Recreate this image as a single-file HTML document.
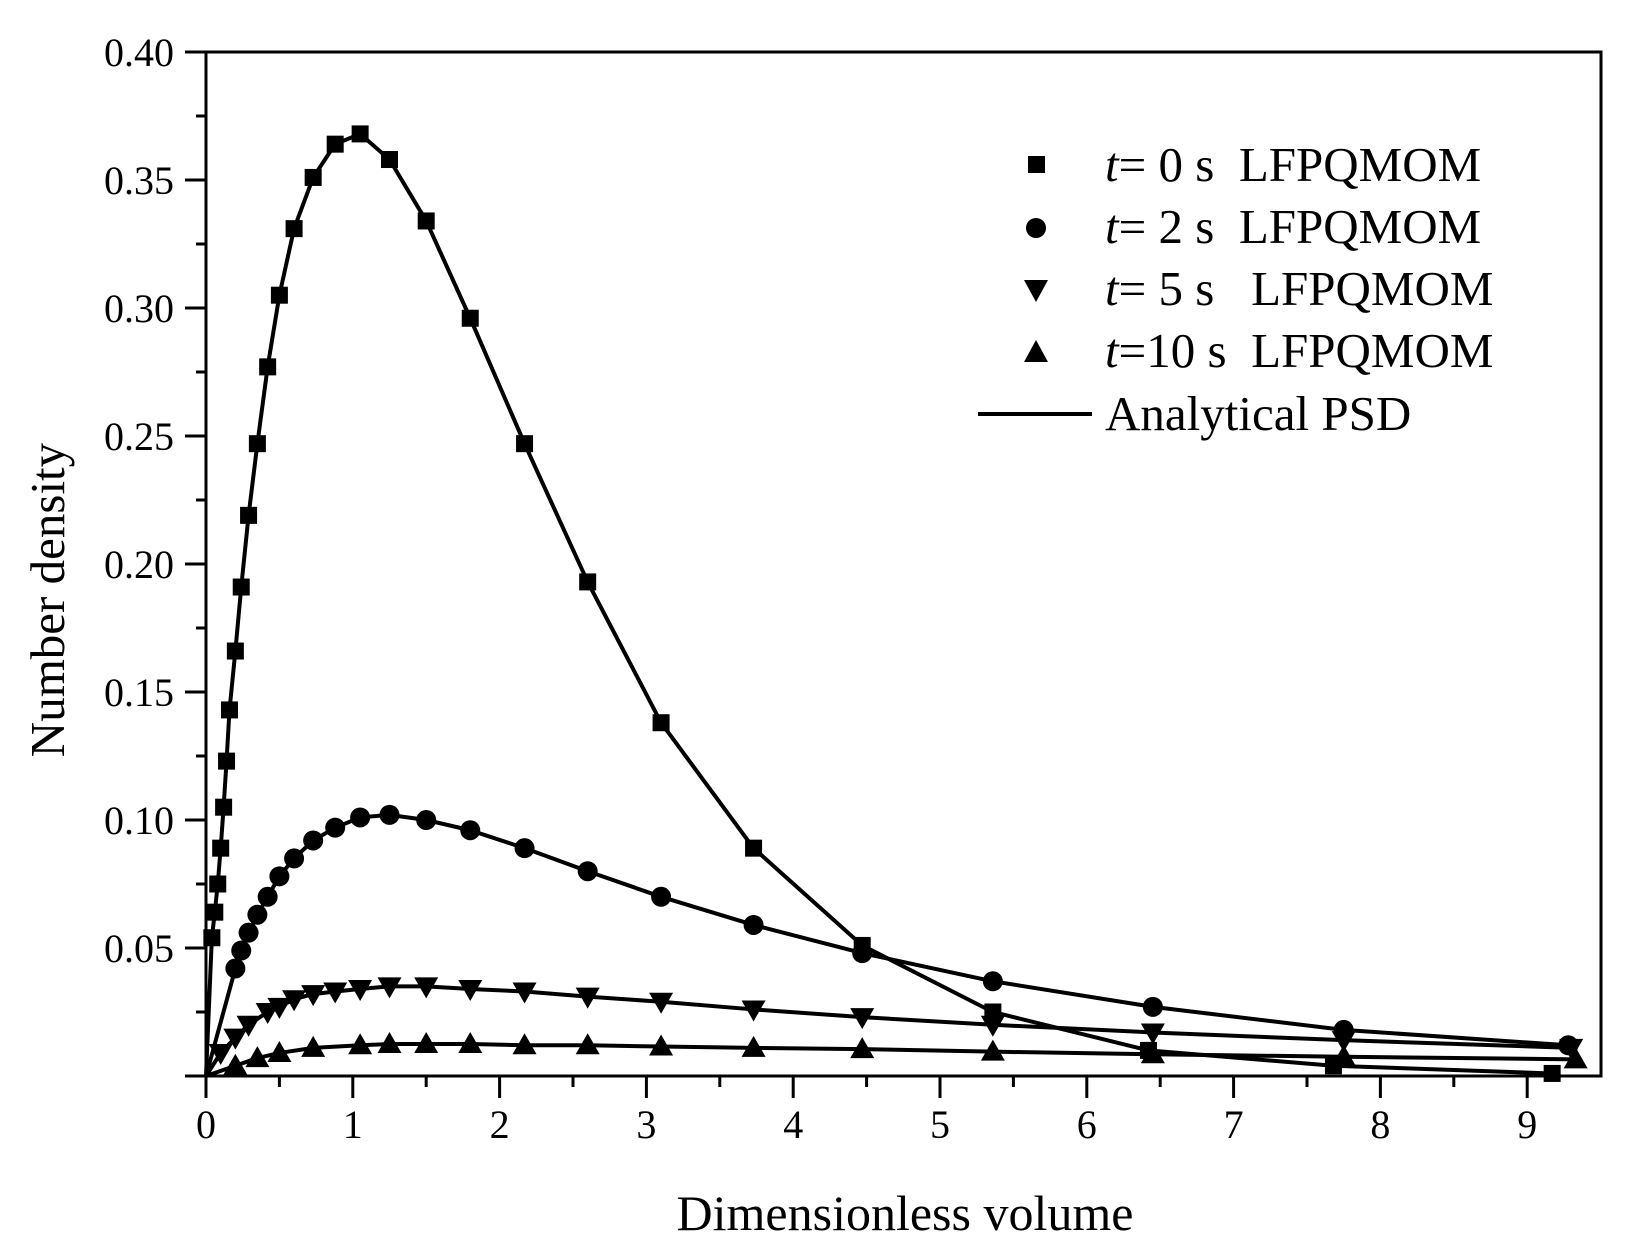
<!DOCTYPE html>
<html><head><meta charset="utf-8"><style>
body{margin:0;background:#fff}
svg{display:block}
text{font-family:"Liberation Serif",serif;fill:#000}
</style></head><body>
<svg id="s" width="1637" height="1251" xmlns="http://www.w3.org/2000/svg">
<rect x="206" y="52" width="1395" height="1024" fill="none" stroke="#000" stroke-width="3"/>
<g id="ax"></g><g id="dat"></g>
<text x="905" y="1230" font-size="50" text-anchor="middle">Dimensionless volume</text>
<text transform="translate(64,600) rotate(-90)" font-size="49" text-anchor="middle">Number density</text>
<g font-size="49">
<rect x="1028" y="156" width="17" height="17" fill="#000"/>
<text x="1105" y="181" xml:space="preserve"><tspan font-style="italic">t</tspan>= 0 s  LFPQMOM</text>
<circle cx="1036" cy="228" r="10" fill="#000"/>
<text x="1105" y="243" xml:space="preserve"><tspan font-style="italic">t</tspan>= 2 s  LFPQMOM</text>
<polygon points="1024,280 1048,280 1036,302" fill="#000"/>
<text x="1105" y="305" xml:space="preserve"><tspan font-style="italic">t</tspan>= 5 s   LFPQMOM</text>
<polygon points="1024,362 1048,362 1036,340" fill="#000"/>
<text x="1105" y="367" xml:space="preserve"><tspan font-style="italic">t</tspan>=10 s  LFPQMOM</text>
<line x1="978" y1="414" x2="1092" y2="414" stroke="#000" stroke-width="4"/>
<text x="1105" y="430">Analytical PSD</text>
</g>
</svg>
<script>
const X=v=>206+v*146.8, Y=v=>1076-v*2560, NS="http://www.w3.org/2000/svg";
const ax=document.getElementById('ax'),dat=document.getElementById('dat');
function el(p,t,a,txt){const e=document.createElementNS(NS,t);for(const k in a)e.setAttribute(k,a[k]);if(txt)e.textContent=txt;p.appendChild(e);return e;}
for(let i=0;i<=8;i++){const y=Y(i*0.05);el(ax,'line',{x1:185,x2:206,y1:y,y2:y,stroke:'#000','stroke-width':3});
 if(i<8){const ym=Y(i*0.05+0.025);el(ax,'line',{x1:196,x2:206,y1:ym,y2:ym,stroke:'#000','stroke-width':3});}
 if(i>0)el(ax,'text',{x:174,y:y+14,'font-size':40,'text-anchor':'end'},(i*0.05).toFixed(2));}
for(let i=0;i<=9;i++){const x=X(i);el(ax,'line',{x1:x,x2:x,y1:1076,y2:1098,stroke:'#000','stroke-width':3});
 const xm=X(i+0.5);if(xm<1600)el(ax,'line',{x1:xm,x2:xm,y1:1076,y2:1087,stroke:'#000','stroke-width':3});
 el(ax,'text',{x:x,y:1138,'font-size':40,'text-anchor':'middle'},String(i));}
const s0=[[0.04,0.054],[0.06,0.064],[0.08,0.075],[0.1,0.089],[0.12,0.105],[0.14,0.123],[0.16,0.143],[0.2,0.166],[0.24,0.191],[0.29,0.219],[0.35,0.247],[0.42,0.277],[0.5,0.305],[0.6,0.331],[0.73,0.351],[0.88,0.364],[1.05,0.368],[1.25,0.358],[1.5,0.334],[1.8,0.296],[2.17,0.247],[2.6,0.193],[3.1,0.138],[3.73,0.089],[4.47,0.051],[5.36,0.025],[6.42,0.010],[7.68,0.004],[9.17,0.001]];
const s2=[[0,0],[0.2,0.042],[0.24,0.049],[0.29,0.056],[0.35,0.063],[0.42,0.07],[0.5,0.078],[0.6,0.085],[0.73,0.092],[0.88,0.097],[1.05,0.101],[1.25,0.102],[1.5,0.1],[1.8,0.096],[2.17,0.089],[2.6,0.080],[3.1,0.070],[3.73,0.059],[4.47,0.048],[5.36,0.037],[6.45,0.027],[7.75,0.018],[9.28,0.012]];
const s5=[[0,0],[0.1,0.009],[0.2,0.015],[0.29,0.02],[0.42,0.025],[0.5,0.027],[0.6,0.03],[0.73,0.032],[0.88,0.033],[1.05,0.034],[1.25,0.035],[1.5,0.035],[1.8,0.034],[2.17,0.033],[2.6,0.031],[3.1,0.029],[3.73,0.026],[4.47,0.023],[5.36,0.02],[6.45,0.017],[7.75,0.014],[9.3,0.011]];
const s10=[[0,0],[0.2,0.004],[0.35,0.007],[0.5,0.009],[0.73,0.011],[1.05,0.012],[1.25,0.0125],[1.5,0.0125],[1.8,0.0125],[2.17,0.012],[2.6,0.012],[3.1,0.0115],[3.73,0.011],[4.47,0.0105],[5.36,0.0095],[6.45,0.0085],[7.75,0.0075],[9.33,0.0065]];
function line(s){el(dat,'polyline',{points:s.map(p=>X(p[0])+','+Y(p[1])).join(' '),fill:'none',stroke:'#000','stroke-width':4,'stroke-linejoin':'round'});}
line([[0,0]].concat(s0));line(s2);line(s5);line(s10);
s0.forEach(p=>el(dat,'rect',{x:X(p[0])-8.5,y:Y(p[1])-8.5,width:17,height:17,fill:'#000'}));
s2.slice(1).forEach(p=>el(dat,'circle',{cx:X(p[0]),cy:Y(p[1]),r:10,fill:'#000'}));
s5.slice(1).forEach(p=>{const x=X(p[0]),y=Y(p[1]);el(dat,'polygon',{points:`${x-12},${y-9} ${x+12},${y-9} ${x},${y+12}`,fill:'#000'});});
s10.slice(1).forEach(p=>{const x=X(p[0]),y=Y(p[1]);el(dat,'polygon',{points:`${x-12},${y+9} ${x+12},${y+9} ${x},${y-12}`,fill:'#000'});});
</script>
</body></html>
